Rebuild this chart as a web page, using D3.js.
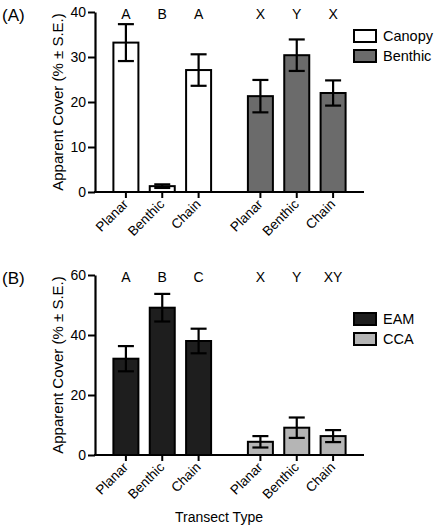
<!DOCTYPE html>
<html><head><meta charset="utf-8">
<script src="https://cdn.jsdelivr.net/npm/d3@7"></script>
<style>body{margin:0;background:#fff}svg{display:block;font-family:"Liberation Sans",Arial,sans-serif}</style>
</head><body><svg id="c" width="437" height="527"></svg>
<script>
const categories = ["Planar","Benthic","Chain"];
// Panel A
const canopyMean = [33.2, 1.3, 27.1];
const canopySE   = [4.1, 0.4, 3.5];
const benthicMean = [21.3, 30.4, 22.0];
const benthicSE   = [3.6, 3.5, 2.8];
const lettersA1 = ["A","B","A"];
const lettersA2 = ["X","Y","X"];
const ticksA = [0,10,20,30,40];
// Panel B
const eamMean = [32.1, 49.1, 38.0];
const eamSE   = [4.2, 4.6, 4.1];
const ccaMean = [4.4, 9.1, 6.3];
const ccaSE   = [1.9, 3.4, 2.0];
const lettersB1 = ["A","B","C"];
const lettersB2 = ["X","Y","XY"];
const ticksB = [0,20,40,60];

const svg = d3.select("#c");
const pos = [0,1,2,3.7,4.7,5.7];
const x = d3.scaleLinear().domain([-0.85, 6.55]).range([95, 364]);
const barW = 25;

function panel(opts){
  const g = svg.append("g");
  const y = d3.scaleLinear().domain([0, opts.max]).range([opts.y0, opts.y1]);
  const groups = [
    {mean: opts.m1, se: opts.s1, fill: opts.f1, letters: opts.l1, off: 0},
    {mean: opts.m2, se: opts.s2, fill: opts.f2, letters: opts.l2, off: 3}
  ];
  groups.forEach(gr => {
    categories.forEach((c,i) => {
      const cx = x(pos[gr.off+i]);
      g.append("rect").attr("x", cx-barW/2).attr("y", y(gr.mean[i]))
        .attr("width", barW).attr("height", y(0)-y(gr.mean[i]))
        .attr("fill", gr.fill).attr("stroke","#000").attr("stroke-width",2);
      const hi = y(gr.mean[i]+gr.se[i]), lo = y(Math.max(0,gr.mean[i]-gr.se[i]));
      g.append("line").attr("x1",cx).attr("x2",cx).attr("y1",hi).attr("y2",lo).attr("stroke","#000").attr("stroke-width",2.2);
      [hi,lo].forEach(v => g.append("line").attr("x1",cx-8).attr("x2",cx+8).attr("y1",v).attr("y2",v).attr("stroke","#000").attr("stroke-width",2.2));
      g.append("text").attr("x",cx).attr("y",opts.y1+6.5).attr("text-anchor","middle")
        .attr("font-size",14).text(gr.letters[i]);
      g.append("line").attr("x1",cx).attr("x2",cx).attr("y1",y(0)).attr("y2",y(0)+6).attr("stroke","#000").attr("stroke-width",2);
      g.append("text").attr("transform",`translate(${cx+3},${y(0)+13}) rotate(-45)`)
        .attr("text-anchor","end").attr("font-size",13.5).text(c);
    });
  });
  const ax = g.append("g").attr("transform","translate(95,0)")
    .call(d3.axisLeft(y).tickValues(opts.ticks).tickSize(7).tickPadding(2).tickSizeOuter(0));
  ax.select(".domain").attr("stroke-width",2.2);
  ax.selectAll(".tick line").attr("stroke-width",2);
  ax.selectAll("text").attr("font-size",14).attr("font-family","Liberation Sans, Arial, sans-serif").attr("fill","#000");
  g.append("line").attr("x1",94).attr("x2",364).attr("y1",y(0)).attr("y2",y(0)).attr("stroke","#000").attr("stroke-width",2.2);
  g.append("text").attr("transform",`translate(63,${(opts.y0+opts.y1)/2}) rotate(-90)`)
    .attr("text-anchor","middle").attr("font-size",15).text("Apparent Cover (% \u00b1 S.E.)");
  g.append("text").attr("x",2).attr("y",opts.y1+9).attr("font-size",17).text(opts.tag);
  [[opts.n1,opts.f1],[opts.n2,opts.f2]].forEach((d,k)=>{
    const ly = opts.legY + k*20;
    g.append("rect").attr("x",354).attr("y",ly).attr("width",22).attr("height",12)
      .attr("fill",d[1]).attr("stroke","#000").attr("stroke-width",2);
    g.append("text").attr("x",383).attr("y",ly+11).attr("font-size",14.5).text(d[0]);
  });
}

panel({y0:192, y1:12, max:40, ticks:ticksA, m1:canopyMean, s1:canopySE, m2:benthicMean, s2:benthicSE,
  f1:"#ffffff", f2:"#6b6b6b", l1:lettersA1, l2:lettersA2, tag:"(A)", n1:"Canopy", n2:"Benthic", legY:30});
panel({y0:455, y1:275, max:60, ticks:ticksB, m1:eamMean, s1:eamSE, m2:ccaMean, s2:ccaSE,
  f1:"#1e1e1e", f2:"#b5b5b5", l1:lettersB1, l2:lettersB2, tag:"(B)", n1:"EAM", n2:"CCA", legY:313});

svg.append("text").attr("x",219).attr("y",522).attr("text-anchor","middle").attr("font-size",14).text("Transect Type");
</script></body></html>
